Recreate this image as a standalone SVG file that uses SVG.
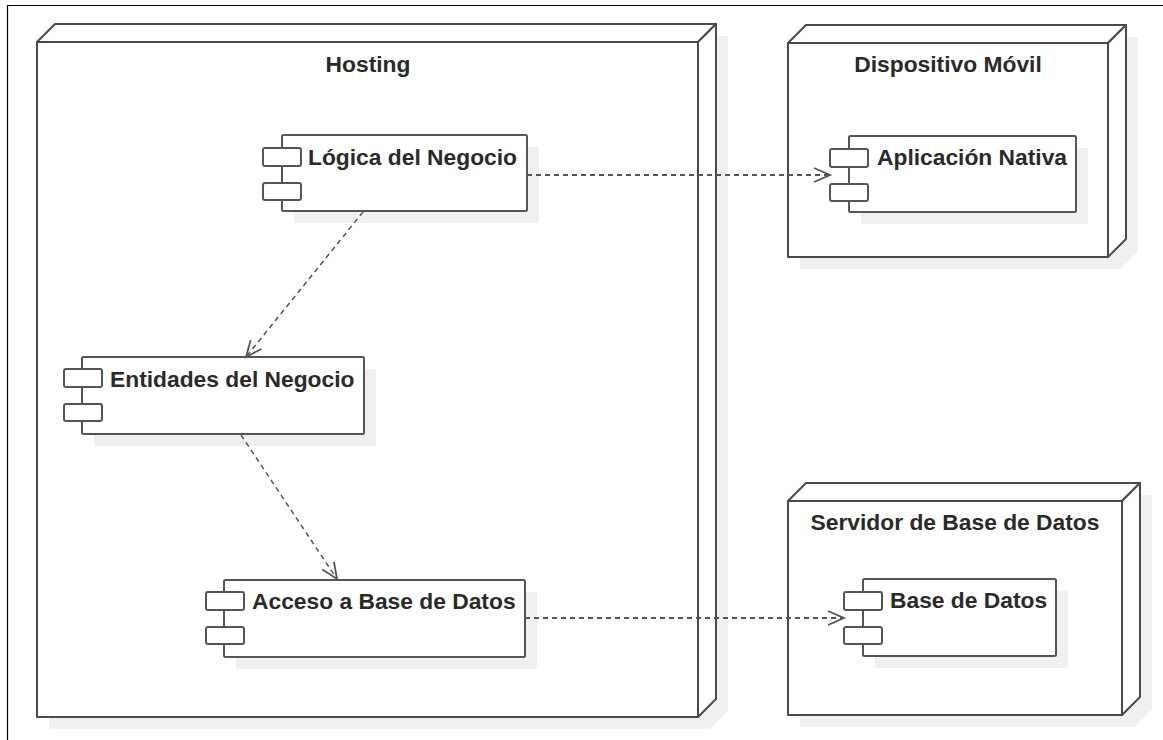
<svg xmlns="http://www.w3.org/2000/svg" width="1163" height="740" viewBox="0 0 1163 740">
  <defs>
    <style>
      .frame { fill: none; stroke: #000; stroke-width: 1.2; }
      .shadow { fill: #f0f0f0; stroke: none; }
      .node { fill: #fff; stroke: #4a4a4a; stroke-width: 2; stroke-linejoin: round; }
      .comp { fill: #fff; stroke: #555; stroke-width: 2; }
      .title { font-family: "Liberation Sans", Arial, sans-serif; font-size: 22.8px; font-weight: bold; fill: #2a2a2a; text-anchor: middle; }
      .label { font-family: "Liberation Sans", Arial, sans-serif; font-size: 22.8px; font-weight: bold; fill: #2a2a2a; }
      .dep { fill: none; stroke: #555; stroke-dasharray: 5 4; }
      .h { stroke-width: 2; }
      .d { stroke-width: 1.5; }
    </style>
    <marker id="open" viewBox="-19 -10 22 20" refX="0" refY="0" markerWidth="22" markerHeight="20" markerUnits="userSpaceOnUse" orient="auto">
      <path d="M-16,-7 L0,0 L-16,7" fill="none" stroke="#555" stroke-width="1.8" stroke-dasharray="none"/>
    </marker>
  </defs>

  <rect width="1163" height="740" fill="#fff"/>
  <!-- page border -->
  <path class="frame" d="M7.5,740 L7.5,5.5 L1163,5.5"/>

  <!-- Hosting node -->
  <g id="node-hosting">
    <polygon class="shadow" points="49,54 67,36 728,36 728,711 710,729 49,729"/>
    <polygon class="node" points="37,42 55,24 716,24 698,42"/>
    <polygon class="node" points="698,42 716,24 716,699 698,717"/>
    <rect class="node" x="37" y="42" width="661" height="675"/>
    <text class="title" x="368" y="72">Hosting</text>
  </g>

  <!-- Dispositivo Móvil node -->
  <g id="node-dispositivo">
    <polygon class="shadow" points="800,55 818,37 1138,37 1138,251 1120,269 800,269"/>
    <polygon class="node" points="788,43 806,25 1126,25 1108,43"/>
    <polygon class="node" points="1108,43 1126,25 1126,239 1108,257"/>
    <rect class="node" x="788" y="43" width="320" height="214"/>
    <text class="title" x="948" y="72">Dispositivo Móvil</text>
  </g>

  <!-- Servidor de Base de Datos node -->
  <g id="node-servidor">
    <polygon class="shadow" points="800,513 818,495 1152,495 1152,709 1134,727 800,727"/>
    <polygon class="node" points="788,501 806,483 1140,483 1122,501"/>
    <polygon class="node" points="1122,501 1140,483 1140,697 1122,715"/>
    <rect class="node" x="788" y="501" width="334" height="214"/>
    <text class="title" x="955" y="530">Servidor de Base de Datos</text>
  </g>

  <!-- Lógica del Negocio component -->
  <g id="comp-logica">
    <rect class="shadow" x="294" y="147" width="245" height="76"/>
    <rect class="comp" x="282" y="135" width="245" height="76" rx="1.5"/>
    <rect class="comp" x="263" y="148" width="38" height="18" rx="2"/>
    <rect class="comp" x="263" y="183" width="38" height="17" rx="2"/>
    <text class="label" x="308" y="165">Lógica del Negocio</text>
  </g>

  <!-- Entidades del Negocio component -->
  <g id="comp-entidades">
    <rect class="shadow" x="94" y="369" width="282" height="77"/>
    <rect class="comp" x="82" y="357" width="282" height="77" rx="1.5"/>
    <rect class="comp" x="64" y="369" width="38" height="18" rx="2"/>
    <rect class="comp" x="64" y="404" width="38" height="17" rx="2"/>
    <text class="label" x="110" y="387">Entidades del Negocio</text>
  </g>

  <!-- Acceso a Base de Datos component -->
  <g id="comp-acceso">
    <rect class="shadow" x="236" y="592" width="301" height="77"/>
    <rect class="comp" x="224" y="580" width="301" height="77" rx="1.5"/>
    <rect class="comp" x="206" y="592" width="38" height="18" rx="2"/>
    <rect class="comp" x="206" y="627" width="38" height="17" rx="2"/>
    <text class="label" x="252" y="609">Acceso a Base de Datos</text>
  </g>

  <!-- Aplicación Nativa component -->
  <g id="comp-aplicacion">
    <rect class="shadow" x="861" y="148" width="227" height="76"/>
    <rect class="comp" x="849" y="136" width="227" height="76" rx="1.5"/>
    <rect class="comp" x="830" y="149" width="38" height="18" rx="2"/>
    <rect class="comp" x="830" y="184" width="38" height="17" rx="2"/>
    <text class="label" x="877" y="165">Aplicación Nativa</text>
  </g>

  <!-- Base de Datos component -->
  <g id="comp-basedatos">
    <rect class="shadow" x="875" y="591" width="193" height="77"/>
    <rect class="comp" x="863" y="579" width="193" height="77" rx="1.5"/>
    <rect class="comp" x="844" y="592" width="38" height="18" rx="2"/>
    <rect class="comp" x="844" y="627" width="38" height="17" rx="2"/>
    <text class="label" x="890" y="608">Base de Datos</text>
  </g>

  <!-- dependencies -->
  <g id="connectors">
    <path class="dep h" d="M527,175 L830,175" marker-end="url(#open)"/>
    <path class="dep d" d="M363,212 L246,357" marker-end="url(#open)"/>
    <path class="dep d" d="M241,435 L337,579" marker-end="url(#open)"/>
    <path class="dep h" d="M525,618 L844,618" marker-end="url(#open)"/>
  </g>
</svg>
